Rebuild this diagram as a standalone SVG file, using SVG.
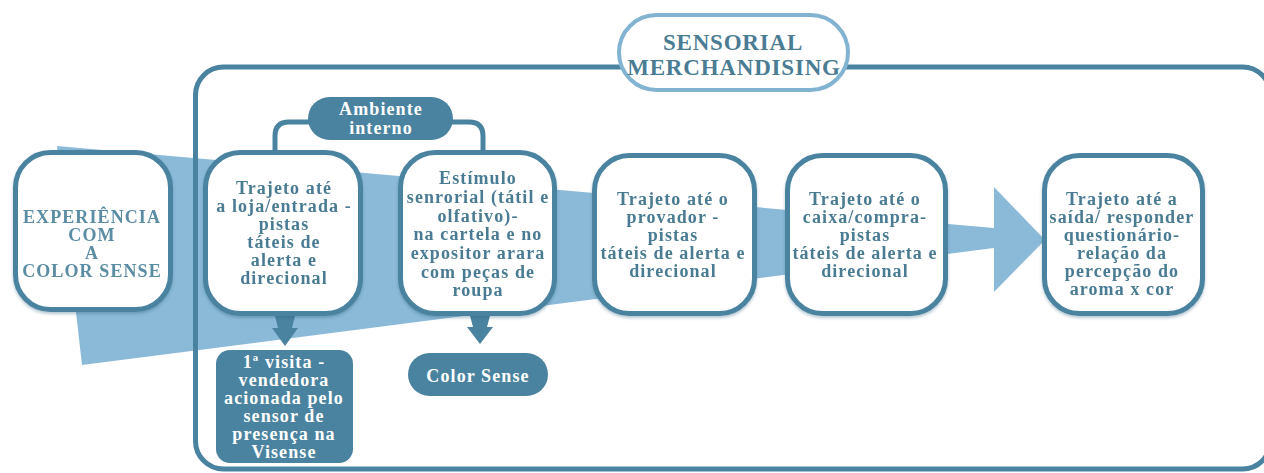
<svg xmlns="http://www.w3.org/2000/svg" width="1264" height="473" viewBox="0 0 1264 473">
  <defs>
    <filter id="sh" x="-10%" y="-10%" width="120%" height="125%">
      <feDropShadow dx="0" dy="2" stdDeviation="1.5" flood-color="#2f5f78" flood-opacity="0.35"/>
    </filter>
    <style>
      .box { fill: #ffffff; stroke: #4a83a0; stroke-width: 5; }
      .dark { fill: #4a83a0; }
      .wedge { fill: #8bbad8; }
      .line { fill: none; stroke: #4a83a0; stroke-width: 5; }
      .t { font-family: "Liberation Serif", "Times New Roman", serif; font-weight: bold; font-size: 18px; letter-spacing: 1.1px; text-anchor: middle; fill: #4a7c93; }
      .w { fill: #ffffff; }
      .g { fill: #5a8ca3; }
      .title { font-size: 23px; letter-spacing: 0.8px; fill: #4a7c93; }
    </style>
  </defs>
  <rect width="1264" height="473" fill="#ffffff"/>

  <!-- background wedge arrow -->
  <polygon class="wedge" points="57,146 994,228 994,187 1045,240 994,292 994,248 82,365"/>

  <!-- container -->
  <g id="container">
    <rect x="195.5" y="67" width="1075" height="402" rx="28" fill="none" stroke="#4a83a0" stroke-width="5"/>
  </g>

  <!-- connectors -->
  <g id="connectors">
    <path class="line" d="M275,153 V136 Q275,122 289,122 H469 Q483,122 483,136 V153"/>
    <path class="dark" d="M274,312 H296 L292,328 L298,328 L285,346 L272,328 L278,328 Z"/>
    <path class="dark" d="M469,312 H491 L487,327 L493,327 L480,344 L467,327 L473,327 Z"/>
  </g>

  <g id="title">
    <rect x="619" y="15" width="229" height="75" rx="37.5" fill="#ffffff" stroke="#82b4d2" stroke-width="4"/>
    <text class="t title" x="733" y="50">SENSORIAL</text>
    <text class="t title" x="734" y="75">MERCHANDISING</text>
  </g>

  <g id="n0" filter="url(#sh)">
    <rect class="box" x="15.5" y="152.5" width="155" height="157" rx="35"/>
    <text class="t g" x="92" y="223">EXPERIÊNCIA</text>
    <text class="t g" x="92" y="241">COM</text>
    <text class="t g" x="92" y="259">A</text>
    <text class="t g" x="92" y="277">COLOR SENSE</text>
  </g>

  <g id="n1" filter="url(#sh)">
    <rect class="box" x="205.5" y="152.5" width="155" height="161" rx="35"/>
    <text class="t" x="284" y="194">Trajeto até</text>
    <text class="t" x="284" y="212">a loja/entrada -</text>
    <text class="t" x="284" y="230">pistas</text>
    <text class="t" x="284" y="248">táteis de</text>
    <text class="t" x="284" y="266">alerta e</text>
    <text class="t" x="284" y="284">direcional</text>
  </g>

  <g id="n-ambiente">
    <rect class="dark" x="308" y="97" width="145" height="43" rx="21.5"/>
    <text class="t w" x="381" y="115">Ambiente</text>
    <text class="t w" x="381" y="134">interno</text>
  </g>

  <g id="n2" filter="url(#sh)">
    <rect class="box" x="400.5" y="152.5" width="154" height="161" rx="35"/>
    <text class="t" x="478" y="184">Estímulo</text>
    <text class="t" x="478" y="203">senrorial (tátil e</text>
    <text class="t" x="478" y="222">olfativo)-</text>
    <text class="t" x="478" y="240">na cartela e no</text>
    <text class="t" x="478" y="259">expositor arara</text>
    <text class="t" x="478" y="278">com peças de</text>
    <text class="t" x="478" y="296">roupa</text>
  </g>

  <g id="n3" filter="url(#sh)">
    <rect class="box" x="594.5" y="155.5" width="160" height="158" rx="35"/>
    <text class="t" x="673" y="205">Trajeto até o</text>
    <text class="t" x="673" y="223">provador -</text>
    <text class="t" x="673" y="241">pistas</text>
    <text class="t" x="673" y="259">táteis de alerta e</text>
    <text class="t" x="673" y="277">direcional</text>
  </g>

  <g id="n4" filter="url(#sh)">
    <rect class="box" x="787.5" y="155.5" width="158" height="158" rx="35"/>
    <text class="t" x="865" y="205">Trajeto até o</text>
    <text class="t" x="865" y="223">caixa/compra-</text>
    <text class="t" x="865" y="241">pistas</text>
    <text class="t" x="865" y="259">táteis de alerta e</text>
    <text class="t" x="865" y="277">direcional</text>
  </g>

  <g id="n5" filter="url(#sh)">
    <rect class="box" x="1044.5" y="155.5" width="158" height="158" rx="35"/>
    <text class="t" x="1122" y="205">Trajeto até a</text>
    <text class="t" x="1122" y="223">saída/ responder</text>
    <text class="t" x="1122" y="241">questionário-</text>
    <text class="t" x="1122" y="259">relação da</text>
    <text class="t" x="1122" y="277">percepção do</text>
    <text class="t" x="1122" y="295">aroma x cor</text>
  </g>

  <g id="n-visita">
    <rect class="dark" x="216" y="350" width="137" height="113" rx="14"/>
    <text class="t w" x="284" y="368">1ª visita -</text>
    <text class="t w" x="284" y="386">vendedora</text>
    <text class="t w" x="284" y="404">acionada pelo</text>
    <text class="t w" x="284" y="422">sensor de</text>
    <text class="t w" x="284" y="440">presença na</text>
    <text class="t w" x="284" y="458">Visense</text>
  </g>

  <g id="n-colorsense">
    <rect class="dark" x="408" y="353" width="140" height="43" rx="21.5"/>
    <text class="t w" x="478" y="382">Color Sense</text>
  </g>
</svg>
